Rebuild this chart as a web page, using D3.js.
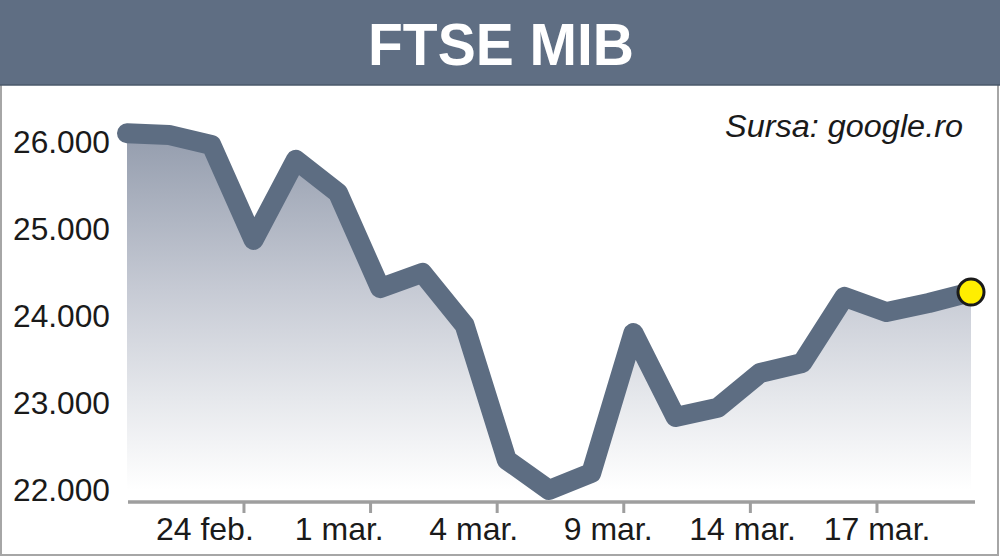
<!DOCTYPE html>
<html>
<head>
<meta charset="utf-8">
<script src="https://cdn.jsdelivr.net/npm/d3@7/dist/d3.min.js"></script>
<style>
  html, body { margin: 0; padding: 0; background: #ffffff; }
  svg { display: block; }
</style>
</head>
<body>
<svg id="chart" width="1000" height="557"></svg>
<script>
// ---- data ----
const title = "FTSE MIB";
const sourceText = "Sursa: google.ro";
const dates = ["21 feb.", "22 feb.", "23 feb.", "24 feb.", "25 feb.", "28 feb.",
  "1 mar.", "2 mar.", "3 mar.", "4 mar.", "7 mar.", "8 mar.", "9 mar.", "10 mar.",
  "11 mar.", "14 mar.", "15 mar.", "16 mar.", "17 mar.", "18 mar.", "21 mar."];
const values = [26100, 26080, 25965, 24875, 25795, 25415, 24320, 24495, 23895, 22345,
  22000, 22195, 23805, 22840, 22945, 23345, 23460, 24220, 24045, 24150, 24275];
const xTickLabels = ["24 feb.", "1 mar.", "4 mar.", "9 mar.", "14 mar.", "17 mar."];
const yTicks = [22000, 23000, 24000, 25000, 26000];

// ---- layout ----
const W = 1000, H = 557;
const bannerH = 85;
const baseY = 502;
const svg = d3.select("#chart");

const x = d3.scaleLinear().domain([0, dates.length - 1]).range([127, 971]);
const y = d3.scaleLinear().domain([22000, 26000]).range([490, 142]);

const lineColor = "#5d6d82";
const font = "'Liberation Sans', Arial, sans-serif";

// background panel with border
svg.append("rect").attr("x", 1).attr("y", 1).attr("width", W - 3).attr("height", H - 3)
  .attr("fill", "#ffffff").attr("stroke", "#a6a6a6").attr("stroke-width", 2);

// banner
svg.append("rect").attr("x", 0).attr("y", 0).attr("width", W).attr("height", bannerH)
  .attr("fill", "#5f6e83");
svg.append("line").attr("x1", 0).attr("x2", W).attr("y1", bannerH).attr("y2", bannerH)
  .attr("stroke", "#4a586a").attr("stroke-width", 1.5);
svg.append("text").attr("x", 501).attr("y", 65)
  .attr("text-anchor", "middle")
  .attr("font-family", font)
  .attr("font-weight", "bold").attr("font-size", 60)
  .attr("textLength", 266).attr("lengthAdjust", "spacingAndGlyphs")
  .attr("fill", "#ffffff").text(title);

// gradient
const defs = svg.append("defs");
const grad = defs.append("linearGradient").attr("id", "areaGrad")
  .attr("gradientUnits", "userSpaceOnUse")
  .attr("x1", 0).attr("x2", 0).attr("y1", 125).attr("y2", 490);
[[0, "#919aab"], [0.45, "#c6cad4"], [0.75, "#e6e8ec"], [1, "#ffffff"]].forEach(s =>
  grad.append("stop").attr("offset", s[0]).attr("stop-color", s[1]));

const idx = d3.range(values.length);

// area
const area = d3.area().x(i => x(i)).y0(baseY).y1(i => y(values[i]));
svg.append("path").datum(idx).attr("d", area).attr("fill", "url(#areaGrad)");

// x axis
const tickIdx = xTickLabels.map(l => dates.indexOf(l));
const tickX = i => x(i - 0.24);
const axisG = svg.append("g").attr("transform", `translate(0,${baseY})`);
const xAxis = d3.axisBottom(x)
  .tickValues(tickIdx.map(i => i - 0.24))
  .tickSize(11).tickFormat("");
axisG.call(xAxis);
axisG.select(".domain").remove();
axisG.selectAll(".tick line").attr("stroke", "#9e9e9e").attr("stroke-width", 3);
axisG.append("line").attr("x1", 128).attr("x2", 975).attr("y1", 0).attr("y2", 0)
  .attr("stroke", "#9e9e9e").attr("stroke-width", 3.5);

// x labels (spread slightly relative to ticks)
svg.append("g").selectAll("text").data(tickIdx).join("text")
  .attr("x", i => tickX(i) + (tickX(i) - 560) * 0.062 - 19)
  .attr("y", 540)
  .attr("text-anchor", "middle")
  .attr("font-family", font)
  .attr("font-size", 32)
  .attr("fill", "#1a1a1a")
  .text(i => dates[i]);

// y labels
const fmt = v => d3.format(",")(v).replace(/,/g, ".");
svg.append("g").selectAll("text").data(yTicks).join("text")
  .attr("x", 110).attr("y", v => y(v)).attr("dy", "0.35em")
  .attr("text-anchor", "end")
  .attr("font-family", font)
  .attr("font-size", 31)
  .attr("textLength", 97).attr("lengthAdjust", "spacingAndGlyphs")
  .attr("fill", "#1a1a1a")
  .text(fmt);

// line
const line = d3.line().x(i => x(i)).y(i => y(values[i]));
svg.append("path").datum(idx).attr("d", line)
  .attr("fill", "none").attr("stroke", lineColor).attr("stroke-width", 20)
  .attr("stroke-linejoin", "round").attr("stroke-linecap", "round");

// end marker
const last = values.length - 1;
svg.append("circle").attr("cx", x(last)).attr("cy", y(values[last])).attr("r", 13)
  .attr("fill", "#ffee00").attr("stroke", "#1a1a1a").attr("stroke-width", 3);

// source
svg.append("text").attr("x", 963).attr("y", 137)
  .attr("text-anchor", "end")
  .attr("font-family", font)
  .attr("font-style", "italic").attr("font-size", 31)
  .attr("textLength", 238).attr("lengthAdjust", "spacingAndGlyphs")
  .attr("fill", "#1a1a1a").text(sourceText);
</script>
</body>
</html>
